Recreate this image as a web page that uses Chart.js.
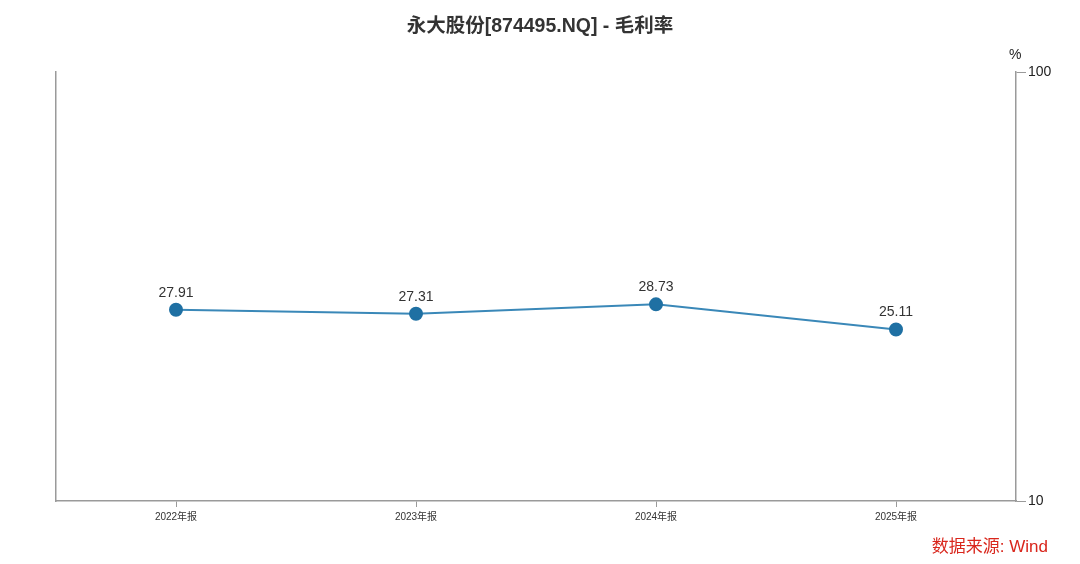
<!DOCTYPE html>
<html>
<head>
<meta charset="utf-8">
<script src="https://cdn.jsdelivr.net/npm/chart.js@4"></script>
<style>
  html, body { margin: 0; padding: 0; background: #fff; }
  #wrap { position: relative; width: 1080px; height: 564px; font-family: "Liberation Sans", "Noto Sans CJK SC", Arial, sans-serif; }
  #titulo { position: absolute; left: 0; top: 9px; width: 1080px; text-align: center; font-size: 19.5px; font-weight: bold; color: #333; }
  #unidad { position: absolute; left: 1009px; top: 46px; font-size: 14px; color: #222; }
  #fuente { position: absolute; right: 32px; top: 532px; font-size: 17px; color: #d9261c; }
</style>
</head>
<body>
<div id="wrap">
  <canvas id="grafico" width="1080" height="564"></canvas>
  <div id="titulo">永大股份[874495.NQ] - 毛利率</div>
  <div id="unidad">%</div>
  <div id="fuente">数据来源: Wind</div>
</div>
<script>
// ===============================
// DATOS
// ===============================
const periodos = ["2022年报", "2023年报", "2024年报", "2025年报"];
const margenBruto = [27.91, 27.31, 28.73, 25.11];
const ticksEje = [10, 100];

const gris = "#9a9a9a";
const fuente = "'Liberation Sans', 'Noto Sans CJK SC', Arial, sans-serif";

// etiquetas encima de cada punto
const etiquetasPuntos = {
  id: "etiquetasPuntos",
  afterDatasetsDraw(chart) {
    const ctx = chart.ctx;
    const meta = chart.getDatasetMeta(0);
    ctx.save();
    ctx.font = "14px " + fuente;
    ctx.fillStyle = "#333";
    ctx.textAlign = "center";
    ctx.textBaseline = "bottom";
    meta.data.forEach((p, i) => {
      ctx.fillText(margenBruto[i].toFixed(2), p.x, p.y - 10);
    });
    ctx.restore();
  }
};

const ctx = document.getElementById("grafico").getContext("2d");
const grafico = new Chart(ctx, {
  type: "line",
  data: {
    labels: periodos,
    datasets: [{
      data: margenBruto,
      borderColor: "#3a88b8",
      borderWidth: 2,
      pointRadius: 6,
      pointHoverRadius: 6,
      pointBackgroundColor: "#1f70a3",
      pointBorderColor: "#1f70a3",
      tension: 0,
      yAxisID: "y"
    }]
  },
  options: {
    responsive: false,
    animation: false,
    layout: { padding: { top: 72, left: 0, right: 0, bottom: 0 } },
    plugins: { legend: { display: false }, title: { display: false }, tooltip: { enabled: false } },
    scales: {
      x: {
        type: "category",
        offset: true,
        grid: { drawOnChartArea: false, drawTicks: true, tickLength: 6, color: gris, offset: false },
        border: { display: true, color: gris, width: 1.5 },
        ticks: { color: "#333", font: { size: 10, family: fuente }, padding: 4, maxRotation: 0 },
        afterFit(s) { s.height = 63; }
      },
      y: {
        type: "logarithmic",
        position: "right",
        min: 10,
        max: 100,
        afterBuildTicks(s) { s.ticks = ticksEje.map(v => ({ value: v })); },
        grid: { drawOnChartArea: false, drawTicks: true, tickLength: 10, color: gris },
        border: { display: true, color: gris, width: 1.5 },
        ticks: { color: "#222", font: { size: 14, family: fuente }, padding: 2, callback: v => String(v) },
        afterFit(s) { s.width = 64; }
      },
      yIzq: {
        type: "linear",
        position: "left",
        display: true,
        grid: { drawOnChartArea: false, drawTicks: false },
        border: { display: true, color: gris, width: 1.5 },
        ticks: { display: false },
        afterFit(s) { s.width = 56; }
      }
    }
  },
  plugins: [etiquetasPuntos]
});
</script>
</body>
</html>
